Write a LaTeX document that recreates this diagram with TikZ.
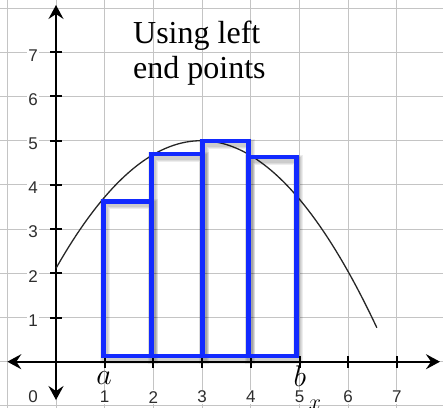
\RequirePackage{fix-cm}
\documentclass[tikz,border=0pt]{standalone}
\usepackage{fontspec}
\usetikzlibrary{arrows.meta}
\newfontfamily\serifL{Liberation Serif}
\newfontfamily\sansL{Liberation Sans}
\definecolor{rectblue}{RGB}{18,42,255}
\definecolor{gridgray}{RGB}{196,196,196}
\definecolor{ticklab}{RGB}{45,45,45}
\tikzset{
  gridline/.style={draw=gridgray, line width=1pt},
  axisline/.style={draw=black, line width=2.3pt, -{Stealth[length=14pt,width=15pt,inset=5pt]}},
  tickmark/.style={draw=black, line width=2pt},
  ticklabel/.style={font=\sansL\fontsize{17}{17}\selectfont, text=ticklab, fill=white, inner sep=1pt},
  endlabel/.style={font=\fontsize{30}{30}\selectfont, inner sep=0pt, anchor=base},
  rectbox/.style={draw=rectblue, line width=4.6pt, line join=miter},
  rectshadow/.style={draw=black, opacity=0.07, line width=#1},
  curveline/.style={draw=black!85, line width=1.3pt},
  titletext/.style={font=\serifL\fontsize{32}{35}\selectfont, inner sep=0pt, anchor=base west}
}
\begin{document}
\begin{tikzpicture}[x=48.7pt,y=44.2pt]
  \useasboundingbox (-1.1499,-1.0249) rectangle (7.9466,8.1833);
  % grid
  \foreach \i in {-1,...,8} \draw[gridline] (\i,-1.1) -- (\i,8.3);
  \foreach \j in {-1,...,8} \draw[gridline] (-1.2,\j) -- (8.1,\j);
  % axes
  \coordinate (xl) at (-1.0,0);
  \coordinate (xr) at (7.885,0);
  \coordinate (yb) at (0,-0.867);
  \coordinate (yt) at (0,8.07);
  \draw[axisline] (0,0) -- (xr);
  \draw[axisline] (0,0) -- (xl);
  \draw[axisline] (0,0) -- (yt);
  \draw[axisline] (0,0) -- (yb);
  % ticks
  \foreach \i in {1,...,7} \draw[tickmark] (\i,-0.136) -- (\i,0.136);
  \foreach \j in {1,...,7} \draw[tickmark] (-0.123,\j) -- (0.123,\j);
  % tick labels
  \foreach \j in {1,...,7} \node[ticklabel] (yl\j) at (-0.47,\j-0.068) {\j};
  \node[ticklabel] (xl0) at (-0.47,-0.80) {0};
  \foreach \i in {1,...,7} \node[ticklabel] (xl\i) at (\i,-0.80) {\i};
  % curve
  \draw[curveline, domain=0:6.59, samples=80] plot (\x,{5-0.325*(\x-2.98)*(\x-2.98)});
  % shadows
  \begin{scope}[shift={(1.6pt,-2.6pt)}]
    \foreach \w in {6pt,8pt,10pt} {
      \draw[rectshadow=\w] (0.975,0.129) rectangle (1.967,3.62);
      \draw[rectshadow=\w] (1.967,0.129) rectangle (3.006,4.70);
      \draw[rectshadow=\w] (3.006,0.129) rectangle (3.953,4.99);
      \draw[rectshadow=\w] (3.953,0.129) rectangle (4.943,4.63);
    }
  \end{scope}
  % rectangles
  \draw[rectbox] (0.975,0.129) rectangle (1.967,3.62);
  \draw[rectbox] (1.967,0.129) rectangle (3.006,4.70);
  \draw[rectbox] (3.006,0.129) rectangle (3.953,4.99);
  \draw[rectbox] (3.953,0.129) rectangle (4.943,4.63);
  % a, b, x labels
  \node[endlabel] (la) at (0.985,-0.527) {$a$};
  \node[endlabel] (lb) at (5.01,-0.572) {$b$};
  \node[font=\fontsize{22}{22}\selectfont, inner sep=0pt, anchor=base] (lx) at (5.32,-1.081) {$x$};
  % title
  \node[titletext] (t1) at (1.581,7.204) {Using left};
  \node[titletext] (t2) at (1.581,6.412) {end points};
\end{tikzpicture}
\end{document}
